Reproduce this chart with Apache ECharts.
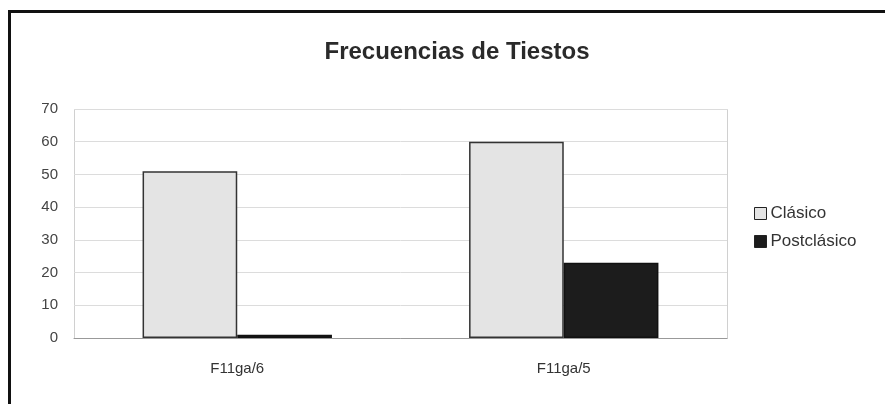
<!DOCTYPE html>
<html>
<head>
<meta charset="utf-8">
<script src="https://cdn.jsdelivr.net/npm/echarts@6/dist/echarts.min.js"></script>
<style>
  html, body { margin: 0; padding: 0; background: #fff; }
  #chart-box { width: 885px; height: 404px; }
</style>
</head>
<body>
<div id="chart-box"></div>
<script>
var categories = ['F11ga/6', 'F11ga/5'];
var clasico = [51, 60];
var postclasico = [1, 23];
var yTicks = [0, 10, 20, 30, 40, 50, 60, 70];

var chart = echarts.init(document.getElementById('chart-box'));

var option = {
    backgroundColor: '#fff',
    animation: false,
    textStyle: { fontFamily: 'Liberation Sans, Arial, sans-serif' },
    title: {
        text: 'Frecuencias de Tiestos',
        left: 452,
        top: 35,
        textAlign: 'center',
        textStyle: { fontSize: 24, fontWeight: 'bold', color: '#2a2a2a' }
    },
    // marco exterior
    graphic: [{
        type: 'rect',
        shape: { x: 9.5, y: 11.5, width: 900, height: 420 },
        style: { fill: null, stroke: '#111', lineWidth: 3 },
        silent: true
    }, {
        type: 'rect',
        shape: { x: 74.5, y: 109.5, width: 653, height: 229 },
        style: { fill: null, stroke: '#d0d0d0', lineWidth: 1 },
        silent: true,
        z: 0
    }],
    legend: {
        orient: 'vertical',
        left: 749,
        top: 200,
        icon: 'rect',
        itemWidth: 12,
        itemHeight: 12,
        itemGap: 11,
        itemStyle: { borderWidth: 1, borderColor: '#222' },
        textStyle: { fontSize: 17, color: '#333', padding: [0, 0, 0, -1] },
        data: ['Clásico', 'Postclásico']
    },
    grid: { left: 74, right: 158, top: 109, bottom: 66 },
    xAxis: {
        type: 'category',
        data: categories,
        axisLine: { lineStyle: { color: '#999', width: 1 } },
        axisTick: { show: false },
        axisLabel: { fontSize: 15, color: '#333', margin: 23 }
    },
    yAxis: {
        type: 'value',
        min: yTicks[0],
        max: yTicks[yTicks.length - 1],
        interval: 10,
        axisLine: { show: false },
        axisTick: { show: false },
        axisLabel: { fontSize: 15, color: '#444', margin: 16 },
        splitLine: { lineStyle: { color: '#dcdcdc', width: 1 } }
    },
    series: [{
        name: 'Clásico',
        type: 'bar',
        data: clasico,
        barGap: '0%',
        barCategoryGap: '42%',
        itemStyle: { color: '#e4e4e4', borderColor: '#333', borderWidth: 1.5 }
    }, {
        name: 'Postclásico',
        type: 'bar',
        data: postclasico,
        itemStyle: { color: '#1c1c1c', borderColor: '#111', borderWidth: 1.5 }
    }]
};

chart.setOption(option);
</script>
</body>
</html>
